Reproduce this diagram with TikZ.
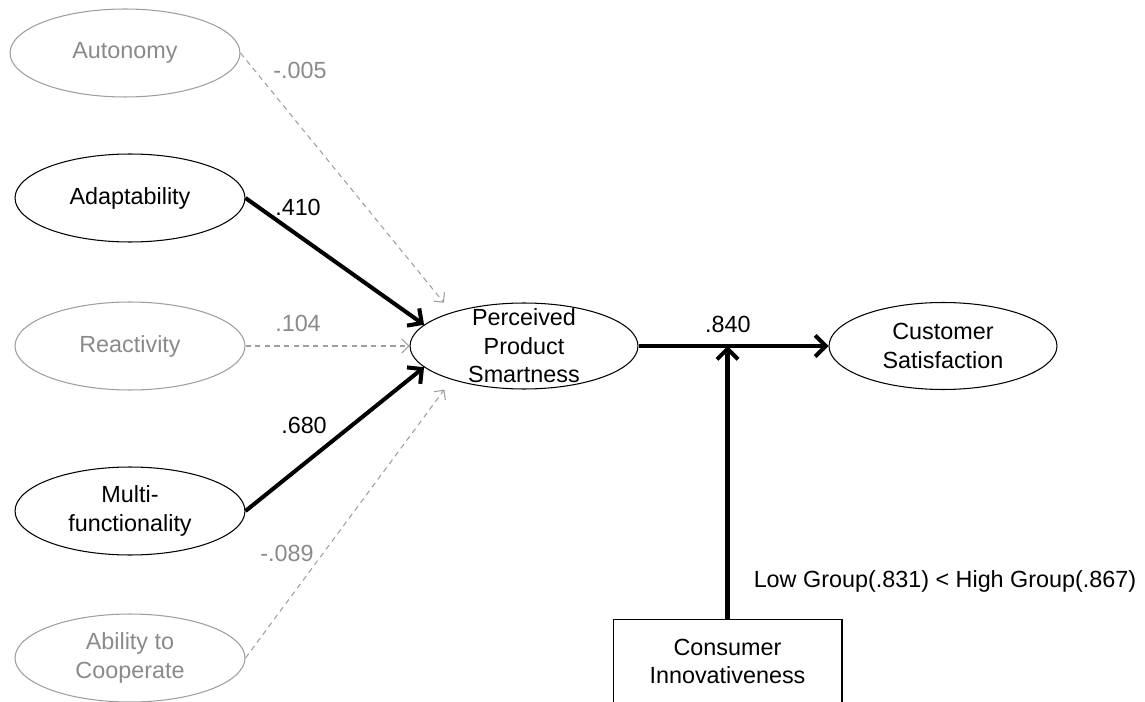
\documentclass[tikz,border=0pt]{standalone}
\usepackage{fontspec}
\setmainfont{Liberation Sans}
\usetikzlibrary{shapes.geometric,arrows.meta}
\definecolor{softtext}{HTML}{8A8A8A}
\definecolor{softline}{HTML}{9E9E9E}

\begin{document}
\begin{tikzpicture}[x=0.02cm, y=-0.02cm,
    every node/.style={font=\fontsize{13.3pt}{16.2pt}\selectfont},
    construct/.style={ellipse, draw, line width=0.6pt, minimum width=4.6cm, minimum height=1.76cm, inner sep=0pt, align=center},
    weak/.style={construct, draw=softline, text=softtext},
    strong path/.style={line width=2.3pt, -{Straight Barb[length=6pt,width=12pt]}},
    weak path/.style={softline, line width=0.6pt, dash pattern=on 3pt off 2.5pt, -{Straight Barb[length=4pt,width=8pt]}},
    coef/.style={text=softtext}]
    \clip (0,0) rectangle (1145,702);

    \node[weak] (auto) at (125,53) {Autonomy};
    \node[construct] (adapt) at (130,198) {Adaptability};
    \node[weak] (react) at (130,346) {Reactivity};
    \node[construct] (multi) at (130,511) {Multi-\\functionality};
    \node[weak] (coop) at (130,658) {Ability to\\Cooperate};
    \node[construct, minimum width=4.56cm, minimum height=1.72cm, inner ysep=-4pt] (pps) at (524,346) {Perceived\\Product\\Smartness};
    \node[construct, minimum width=4.56cm, minimum height=1.74cm] (cs) at (943,346) {Customer\\Satisfaction};
    \node[draw, line width=0.6pt, minimum width=4.58cm, anchor=north, inner ysep=11pt, text depth=2cm, align=center] (innov) at (727.5,619) {Consumer\\Innovativeness};

    \draw[weak path, shorten >=7pt] (auto.east) -- (pps.155);
    \draw[strong path] (adapt.east) -- (pps.168);
    \draw[weak path] (react) -- (pps);
    \draw[strong path] (multi.east) -- (pps.192);
    \draw[weak path, shorten >=7pt] (coop.east) -- (pps.205);
    \draw[strong path] (pps) -- (cs) node[pos=0.47, above=3pt] (c840) {.840};
    \draw[strong path] (innov) -- (innov |- pps);

    \node[coef] (c005) at (300,70) {-.005};
    \node (c410) at (298,207) {.410};
    \node[coef] (c104) at (298,323) {.104};
    \node (c680) at (304,425) {.680};
    \node[coef] (c089) at (287,553) {-.089};
    \node (groups) at (945,581) {Low Group(.831) < High Group(.867)};
\end{tikzpicture}
\end{document}
